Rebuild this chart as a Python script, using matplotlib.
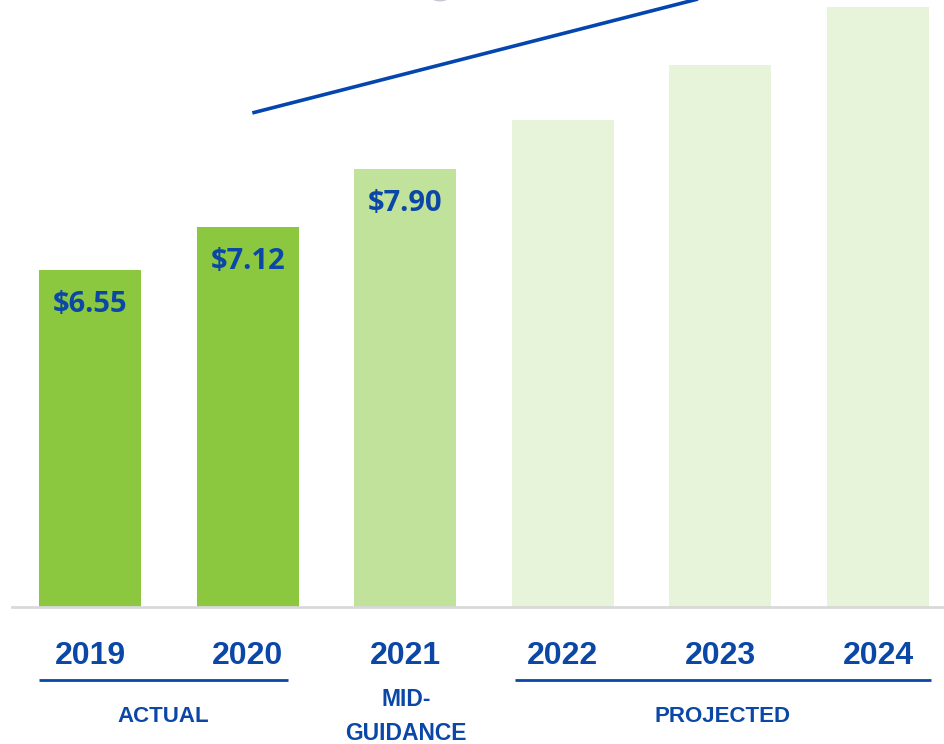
import matplotlib
matplotlib.use("Agg")
import matplotlib.pyplot as plt
from matplotlib.patches import Ellipse
from matplotlib.transforms import blended_transform_factory

# ---- data ----
years = ["2019", "2020", "2021", "2022", "2023", "2024"]
values = [6.55, 7.12, 7.90, 8.56, 9.29, 10.07]
value_labels = ["$6.55", "$7.12", "$7.90", "", "", ""]
bar_colors = ["#8CC83F", "#8CC83F", "#C1E29A", "#E7F4DA", "#E7F4DA", "#E7F4DA"]
trend_x = [1.03, 4.0]
trend_y = [8.65, 10.25]
groups = ["ACTUAL", "MID-", "GUIDANCE", "PROJECTED"]

W, H = 945, 744
BLUE = "#0B47A6"
FONT = "Liberation Sans"

fig = plt.figure(figsize=(W / 100, H / 100), dpi=100)
ax = fig.add_axes([0, 137 / H, 1, 607 / H])
ax.set_xlim(-90 / 157.6, (945 - 90) / 157.6)
ax.set_ylim(2.045, 2.045 + 607 / 74.8)
ax.axis("off")

xs = list(range(len(years)))
ax.bar(xs, [v - 2.045 for v in values], bottom=2.045, width=0.647,
       color=bar_colors, zorder=2)

# baseline
ax.axhline(2.045, xmin=12 / W, xmax=1, color="#D9D9D9", lw=2.0, zorder=3,
           clip_on=False)

# trend line
ax.plot(trend_x, trend_y, color="#0546AE", lw=2.6, solid_capstyle="butt",
        zorder=4)

# value labels
for x, v, lab in zip(xs, values, value_labels):
    if lab:
        ax.annotate(lab, (x, v), xytext=(0, -34 * 0.72), textcoords="offset points",
                    ha="center", va="center", fontsize=21, fontweight="bold",
                    family="Open Sans", color=BLUE, zorder=5)

tr = blended_transform_factory(ax.transData, fig.transFigure)


def fy(py):
    return 1 - py / H


def dx(px):
    return (px - 90) / 157.6


# year labels
for x, y in zip(xs, years):
    ax.text(x, fy(656), y, transform=tr, ha="center", va="center",
            fontsize=23, fontweight="bold", family=FONT, color=BLUE)

# group underlines
ax.plot([dx(39), dx(288)], [fy(680), fy(680)], transform=tr, color=BLUE,
        lw=2.0, clip_on=False, solid_capstyle="butt")
ax.plot([dx(515), dx(931)], [fy(680), fy(680)], transform=tr, color=BLUE,
        lw=2.0, clip_on=False, solid_capstyle="butt")

# group labels
ax.text(dx(163), fy(717), groups[0], transform=tr, ha="center", va="center",
        fontsize=16, fontweight="bold", family=FONT, color=BLUE)
ax.text(dx(406), fy(699), groups[1], transform=tr, ha="center", va="center",
        fontsize=16.5, fontweight="bold", family=FONT, color=BLUE)
ax.text(dx(406), fy(734), groups[2], transform=tr, ha="center", va="center",
        fontsize=16.5, fontweight="bold", family=FONT, color=BLUE)
ax.text(dx(723), fy(717), groups[3], transform=tr, ha="center", va="center",
        fontsize=16, fontweight="bold", family=FONT, color=BLUE)

# faint partial circle at top edge
circ = Ellipse((440 / W, 1 + 17 / H), 34 / W, 34 / H, transform=fig.transFigure,
               fill=False, edgecolor="#C4C7D6", lw=2.0, clip_on=False)
fig.add_artist(circ)

fig.savefig("out.png", dpi=100)
